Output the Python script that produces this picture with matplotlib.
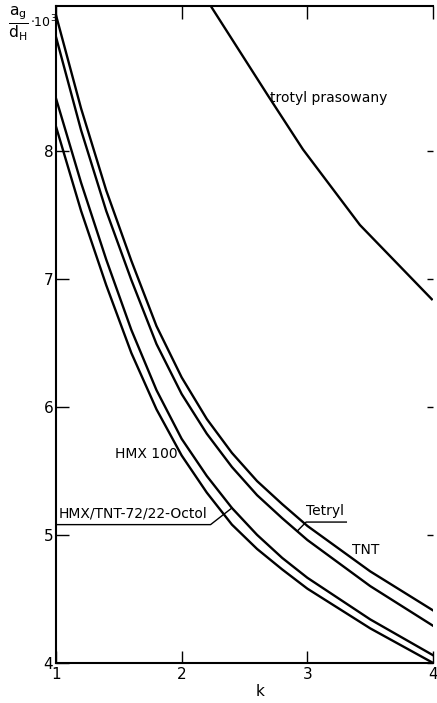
import matplotlib
matplotlib.use("Agg")
import matplotlib.pyplot as plt

# values (k, a_g/d_H * 10^3)
k_grid = [1.0, 1.2, 1.4, 1.6, 1.8, 2.0, 2.2, 2.4, 2.6, 2.8, 3.0, 3.5, 4.0]
v_tnt = [9.06, 8.33, 7.69, 7.14, 6.63, 6.23, 5.905, 5.64, 5.42, 5.24, 5.07, 4.715, 4.41]
v_tetryl = [8.89, 8.16, 7.53, 6.99, 6.49, 6.10, 5.79, 5.53, 5.31, 5.13, 4.96, 4.60, 4.29]
v_octol = [8.41, 7.75, 7.15, 6.60, 6.13, 5.75, 5.46, 5.21, 5.00, 4.82, 4.665, 4.34, 4.06]
v_hmx = [8.19, 7.53, 6.95, 6.42, 5.98, 5.62, 5.33, 5.08, 4.89, 4.73, 4.58, 4.27, 4.0]

k_pressed = [2.225, 2.687, 2.965, 3.418, 3.99]
v_pressed = [9.14, 8.43, 8.01, 7.42, 6.84]

x_ticks = [1, 2, 3, 4]
y_ticks = [4, 5, 6, 7, 8]

fig = plt.figure(figsize=(4.37, 7.03), dpi=100)
ax = fig.add_axes([0.128, 0.057, 0.863, 0.9345])

lw = 1.7
for v in [v_tnt, v_tetryl, v_octol, v_hmx]:
    ax.plot(k_grid, v, color="black", lw=lw)
ax.plot(k_pressed, v_pressed, color="black", lw=lw)

ax.set_xlim(1, 4)
ax.set_ylim(4, 9.13)
ax.spines["right"].set_visible(False)
for s in ["left", "top", "bottom"]:
    ax.spines[s].set_linewidth(1.5)

ax.set_xticks(x_ticks)
ax.set_yticks(y_ticks)
ax.tick_params(axis="both", direction="in", length=9, width=1.0,
               labelsize=11, top=True, right=True)
ax.yaxis.set_tick_params(pad=2)
ax.xaxis.set_tick_params(pad=3)
# short dashes on the right edge (no right spine)
for t in ax.yaxis.get_major_ticks():
    t.tick2line.set_markersize(4)
    t.tick2line.set_marker(0)

ax.set_xlabel("k", fontsize=11)
ax.xaxis.set_label_coords(0.541, -0.032)

# y label as fraction in the top-left corner
fig.text(0.043, 0.966, r"$\frac{\mathrm{a_g}}{\mathrm{d_H}}$", fontsize=16,
         ha="center", va="center")
fig.text(0.069, 0.968, r"$\cdot\mathrm{10^3}$", fontsize=9, ha="left", va="center")

tstyle = dict(fontsize=10, color="black")
ax.text(2.70, 8.41, "trotyl prasowany", ha="left", va="center", **tstyle)
ax.text(1.47, 5.63, "HMX 100", ha="left", va="center", **tstyle)
ax.text(3.355, 4.88, "TNT", ha="left", va="center", **tstyle)

# Octol label with underline and leader
ax.text(1.02, 5.17, "HMX/TNT-72/22-Octol", ha="left", va="center", **tstyle)
ax.plot([1.01, 2.23, 2.40], [5.08, 5.08, 5.21], color="black", lw=1.0,
        clip_on=False)

# Tetryl label with underline and leader
ax.text(2.99, 5.19, "Tetryl", ha="left", va="center", **tstyle)
ax.plot([2.92, 2.99, 3.31], [5.03, 5.10, 5.10], color="black", lw=1.0)

fig.savefig("out.png", dpi=100)
